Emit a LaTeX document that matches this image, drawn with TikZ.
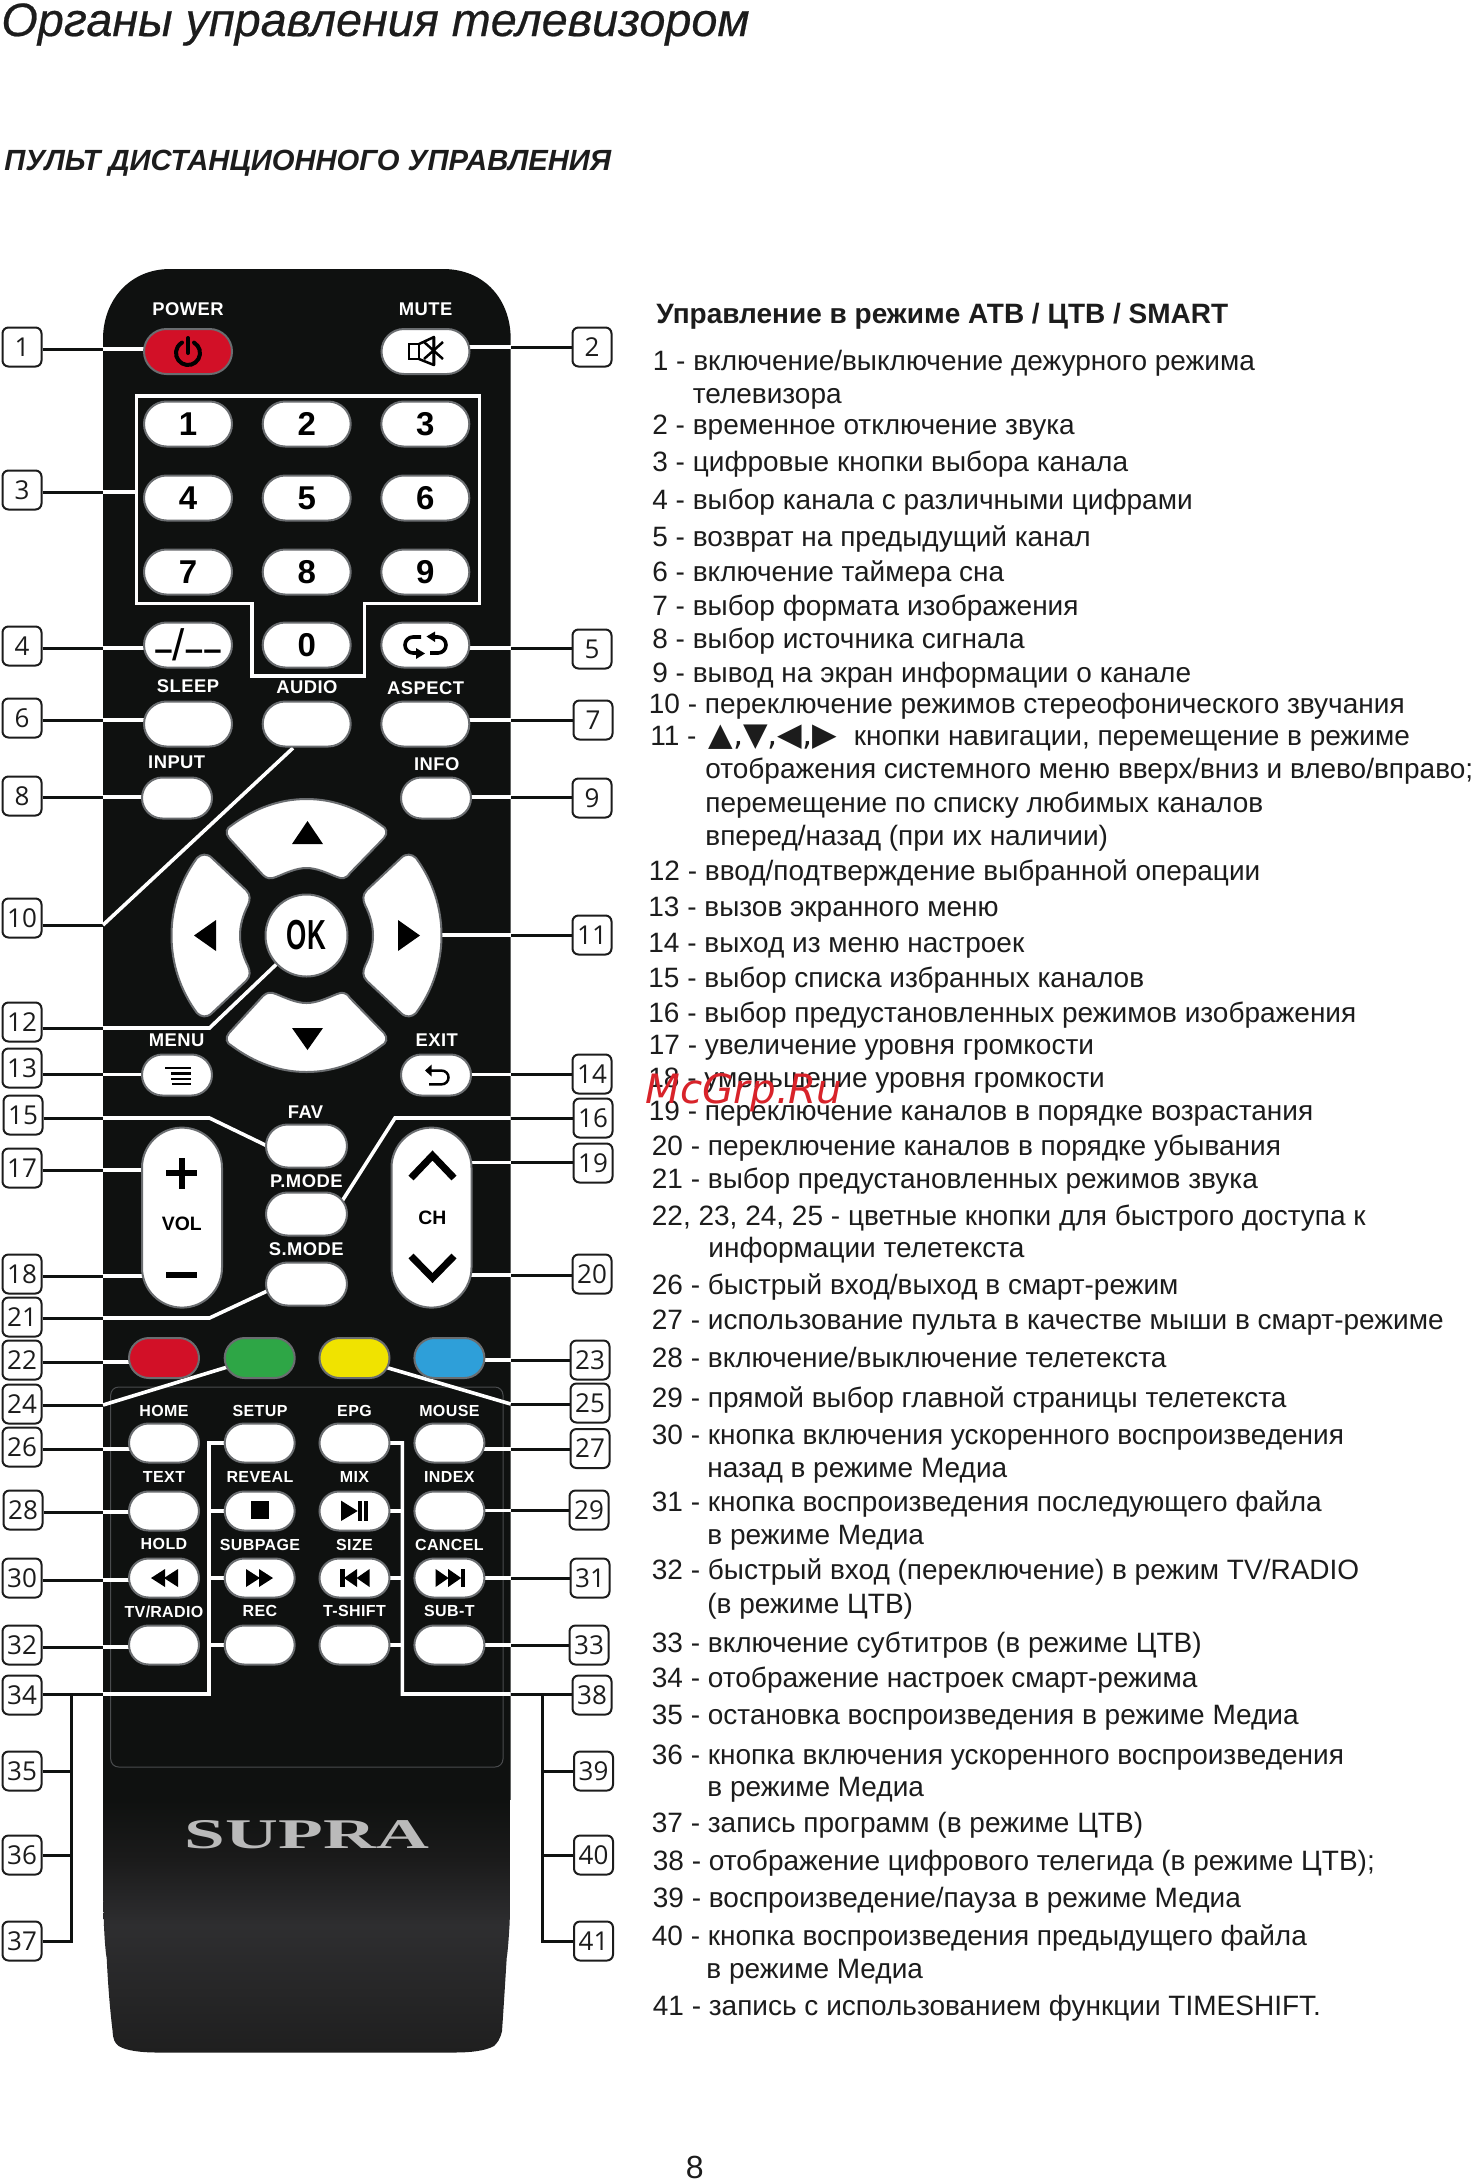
\documentclass[tikz,border=0pt]{standalone}
\usepackage{fontspec}
\setmainfont{Liberation Sans}
\newfontfamily\keyfont[LetterSpace=2.5]{Liberation Sans}
\newfontfamily\labfont{Open Sans}
\newfontfamily\symfont{DejaVu Sans}
\newfontfamily\wmfont{DejaVu Sans}
\newfontfamily\brandfont{Liberation Serif}
\usetikzlibrary{shapes.misc,calc}
\newcommand\fs[1]{\fontsize{#1pt}{#1pt}\selectfont}
\definecolor{bodyc}{HTML}{0F1110}
\definecolor{bodyk}{HTML}{1B1B1B}
\definecolor{bodyl}{HTML}{2E2E30}
\definecolor{bodym}{HTML}{1E1E1E}
\definecolor{edgec}{HTML}{6A6D70}
\definecolor{inkc}{HTML}{1C1C1C}
\definecolor{redc}{HTML}{D21027}
\definecolor{greenc}{HTML}{2EA646}
\definecolor{yellowc}{HTML}{F0E300}
\definecolor{bluec}{HTML}{2E9FD9}
\definecolor{markc}{HTML}{D8232A}
\pgfdeclarelayer{bodylayer}
\pgfdeclarelayer{linelayer}
\pgfsetlayers{bodylayer,linelayer,main}
\tikzset{
 btn/.style={rounded rectangle,draw=edgec,fill=white,line width=1pt,inner sep=0pt,outer sep=0pt},
 bigbtn/.style={btn,minimum width=44pt,minimum height=22.5pt},
 midbtn/.style={btn,minimum width=35pt,minimum height=20.5pt},
 favbtn/.style={btn,minimum width=40.5pt,minimum height=21.5pt},
 smallbtn/.style={btn,minimum width=35pt,minimum height=19.5pt},
 tallbtn/.style={rectangle,rounded corners=20pt,draw=edgec,fill=white,line width=1pt,inner sep=0pt,outer sep=0pt,minimum width=40pt,minimum height=90pt,text=black,font=\bfseries\fs{9.7}},
 numtext/.style={font=\bfseries\fs{16.5}},
 caplabel/.style={text=white,inner sep=0pt,font=\keyfont\bfseries\fs{9.2}},
 smlabel/.style={text=white,inner sep=0pt,font=\keyfont\bfseries\fs{8}},
 callout/.style={draw=inkc,fill=white,rounded corners=3pt,line width=1pt,minimum width=19.5pt,minimum height=19.5pt,inner sep=0pt,text=inkc,font=\labfont\fs{13}},
 kline/.style={draw=bodyc,line width=1.5pt},
 wline/.style={draw=white,line width=1.8pt},
 padbtn/.style={draw=edgec,fill=white,line width=1pt},
 icon/.style={fill=black,draw=none},
 iconln/.style={draw=black,line width=1.25pt},
 listtext/.style={anchor=base west,inner sep=0pt,text=inkc,font=\fs{14}},
}
\newcounter{ln}
\newcommand\li[3]{\stepcounter{ln}\node[listtext] (t\theln) at (#1,#2) {#3};}
\newcommand\lab[4]{\node[callout] (#1) at (#2,#3) {#4};}
% left connector: label, target, y
\newcommand\lc[3]{\begin{pgfonlayer}{linelayer}\coordinate (yy) at (0,#3);
 \draw[kline] (#1.east|-yy) -- (bl|-yy); \draw[wline] (bl|-yy) -- (#2|-yy);\end{pgfonlayer}}
\newcommand\rc[3]{\begin{pgfonlayer}{linelayer}\coordinate (yy) at (0,#3);
 \draw[kline] (#1.west|-yy) -- (br|-yy); \draw[wline] (br|-yy) -- (#2|-yy);\end{pgfonlayer}}
\newcommand\bodypath{(103,339) .. controls (103,300) and (130,269) .. (170,269) -- (443,269) .. controls (485,269) and (510.7,300) .. (510.7,339) -- (510.7,1875) .. controls (510.7,1920) and (508,1950) .. (506.7,1958) .. controls (505,1985) and (503.5,2010) .. (502,2031) .. controls (500,2040) and (497,2043) .. (494,2046) .. controls (485,2051) and (470,2052.5) .. (454.5,2052.5) -- (158,2052.5) .. controls (142,2052.5) and (127,2051) .. (118.6,2046) .. controls (115,2043) and (113,2040) .. (112.6,2031) .. controls (110,2010) and (108,1985) .. (106.7,1958) .. controls (105,1950) and (103,1920) .. (103,1875) -- cycle}
\begin{document}
\begin{tikzpicture}[x=0.5pt,y=-0.5pt]
\useasboundingbox (0,0) rectangle (1475,2181);
\coordinate (bl) at (103,0);
\coordinate (br) at (510.7,0);
% titles
\node[anchor=base west,inner sep=0pt,text=inkc,font=\itshape\fs{23.4}\addfontfeature{FakeBold=0.5}] (title) at (1,36) {Органы управления телевизором};
\node[anchor=base west,inner sep=0pt,text=inkc,font=\bfseries\itshape\fs{14.6}] (subtitle) at (4,170) {ПУЛЬТ ДИСТАНЦИОННОГО УПРАВЛЕНИЯ};
% body
\begin{pgfonlayer}{bodylayer}
\fill[white] (0,0) rectangle (1475,2181);
\begin{scope}
\clip \bodypath;
\fill[bodyc] (90,260) rectangle (520,1800);
\shade[top color=bodyc,bottom color=bodyk] (90,1800) rectangle (520,1860);
\shade[top color=bodyk,bottom color=bodyl] (90,1860) rectangle (520,1925);
\shade[top color=bodyl,bottom color=bodym] (90,1925) rectangle (520,2060);
\end{scope}
\draw[draw=edgec!70!black,line width=.5pt,rounded corners=4pt] (110.7,1387) rectangle (503,1767);
\end{pgfonlayer}
% captions
\foreach \nm/\tx/\xx/\yy in {c1/POWER/188/309,c2/MUTE/425.7/309,c3/SLEEP/188/686.6,c4/AUDIO/307/687.5,c5/ASPECT/425.7/688,c6/INPUT/176.7/762.5,c7/INFO/436.8/764,c8/MENU/176.7/1040,c9/EXIT/436.8/1040,c10/FAV/305.5/1112,c11/P.MODE/306.3/1181,c12/S.MODE/306.3/1249.6}
 {\node[caplabel] (\nm) at (\xx,\yy) {\tx};}
\foreach \nm/\tx/\xx/\yy in {d1/HOME/164/1411,d2/SETUP/260/1411,d3/EPG/354.5/1411,d4/MOUSE/449.4/1411,d5/TEXT/164/1476.5,d6/REVEAL/260/1476.5,d7/MIX/354.5/1476.5,d8/INDEX/449.4/1476.5,d9/HOLD/164/1544,d10/SUBPAGE/260/1545,d11/SIZE/354.5/1545,d12/CANCEL/449.4/1545,d13/TV\slash RADIO/164/1611.4,d14/REC/260/1611.4,d15/T-SHIFT/354.5/1611.4,d16/SUB-T/449.4/1611.4}
 {\node[smlabel] (\nm) at (\xx,\yy) {\tx};}
% top buttons
\node[bigbtn,fill=redc] (bpower) at (188,351.5) {};
\node[bigbtn] (bmute) at (425.5,351.5) {};
\node[bigbtn,numtext] (n1) at (188,424) {1};
\node[bigbtn,numtext] (n2) at (306.7,424) {2};
\node[bigbtn,numtext] (n3) at (425.3,424) {3};
\node[bigbtn,numtext] (n4) at (188,498) {4};
\node[bigbtn,numtext] (n5) at (306.7,498) {5};
\node[bigbtn,numtext] (n6) at (425.3,498) {6};
\node[bigbtn,numtext] (n7) at (188,572) {7};
\node[bigbtn,numtext] (n8) at (306.7,572) {8};
\node[bigbtn,numtext] (n9) at (425.3,572) {9};
\node[bigbtn,numtext] (bdash) at (188,645) {–{\mdseries\fs{22}/}––};
\node[bigbtn,numtext] (n0) at (306.7,645) {0};
\node[bigbtn] (bswap) at (425.3,645) {};
\node[bigbtn] (bsleep) at (188,724) {};
\node[bigbtn] (baudio) at (306.7,724) {};
\node[bigbtn] (baspect) at (425.3,724) {};
\node[midbtn] (binput) at (177,798) {};
\node[midbtn] (binfo) at (436,798) {};
\node[midbtn] (bmenu) at (177,1075) {};
\node[midbtn] (bexit) at (436,1075) {};
\node[favbtn] (bfav) at (306.5,1146) {};
\node[favbtn] (bpmode) at (306.5,1214) {};
\node[favbtn] (bsmode) at (306.5,1284) {};
\node[tallbtn] (bvol) at (182,1217.6) {};
\node[tallbtn] (bch) at (431.5,1217.6) {};
\node[inner sep=0pt,text=black,font=\bfseries\fs{9.7}] (tvol) at (181.8,1223.5) {VOL};
\node[inner sep=0pt,text=black,font=\bfseries\fs{9.7}] (tch) at (432.4,1217.6) {CH};
% colour buttons
\node[smallbtn,minimum height=20pt,fill=redc] (cred) at (164,1358) {};
\node[smallbtn,minimum height=20pt,fill=greenc] (cgreen) at (259.7,1358) {};
\node[smallbtn,minimum height=20pt,fill=yellowc] (cyellow) at (354.5,1358) {};
\node[smallbtn,minimum height=20pt,fill=bluec] (cblue) at (449.4,1358) {};
% grid
\node[smallbtn] (bhome) at (164,1443) {};
\node[smallbtn] (bsetup) at (259.7,1443) {};
\node[smallbtn] (bepg) at (354.5,1443) {};
\node[smallbtn] (bmouse) at (449.4,1443) {};
\node[smallbtn] (btext) at (164,1511) {};
\node[smallbtn] (breveal) at (259.7,1511) {};
\node[smallbtn] (bmix) at (354.5,1511) {};
\node[smallbtn] (bindex) at (449.4,1511) {};
\node[smallbtn] (bhold) at (164,1578) {};
\node[smallbtn] (bsubpage) at (259.7,1578) {};
\node[smallbtn] (bsize) at (354.5,1578) {};
\node[smallbtn] (bcancel) at (449.4,1578) {};
\node[smallbtn] (btv) at (164,1645) {};
\node[smallbtn] (brec) at (259.7,1645) {};
\node[smallbtn] (bshift) at (354.5,1645) {};
\node[smallbtn] (bsubt) at (449.4,1645) {};
% pad
\newcommand\padup{(229,838) .. controls (225,833) and (226,828) .. (232,825) .. controls (255,808) and (280,799) .. (306.5,799) .. controls (333,799) and (358,808) .. (381,825) .. controls (387,828) and (388,833) .. (384,838) -- (350,873) .. controls (346,879) and (342,879) .. (337,877) .. controls (327,873) and (317,868) .. (306.5,868) .. controls (296,868) and (286,873) .. (276,877) .. controls (271,879) and (267,879) .. (263,875) -- cycle}
\newcommand\padleft{(197,858) .. controls (201,854) and (207,853) .. (212,858) -- (246,890) .. controls (251,895) and (250,900) .. (248,905) .. controls (243,915) and (240,925) .. (240,935.5) .. controls (240,946) and (243,956) .. (248,966) .. controls (250,971) and (251,976) .. (246,981) -- (212,1013) .. controls (207,1018) and (201,1017) .. (197,1013) .. controls (180,990) and (171.5,963) .. (171.5,935.5) .. controls (171.5,908) and (180,881) .. (197,858) -- cycle}
\draw[padbtn] \padup;
\begin{scope}[shift={(0,1871)},yscale=-1]\draw[padbtn] \padup;\end{scope}
\draw[padbtn] \padleft;
\begin{scope}[shift={(613,0)},xscale=-1]\draw[padbtn] \padleft;\end{scope}
\coordinate (padr) at (430,935);
\fill[icon] (292,844) -- (307.5,821) -- (323,844) -- cycle;
\fill[icon] (292,1028) -- (307.5,1050) -- (323,1028) -- cycle;
\fill[icon] (216,920) -- (194,935.5) -- (216,951) -- cycle;
\fill[icon] (398,920) -- (420,935.5) -- (398,951) -- cycle;
\node[circle,draw=edgec,fill=white,line width=1pt,minimum size=41pt,inner sep=0pt,font=\bfseries\fs{21}] (bok) at (306.5,935.5) {\scalebox{.62}[1]{OK}};
% icons
\draw[line width=2pt,draw=black,line cap=round] (194,342.6) arc[start angle=-60,end angle=240,radius=12];
\draw[line width=2pt,draw=black,line cap=round] (188,338) -- (188,353);
\draw[iconln,fill=white] (409,344) rectangle (419,359);
\draw[iconln,line join=round] (419,344) -- (434,337) -- (434,365) -- (419,359);
\draw[iconln] (424,342) -- (443,359) (424,359) -- (443,342) (433.5,337) -- (433.5,365);
\draw[line width=1.8pt,draw=black] (421,637) -- (413,637) arc[start angle=270,end angle=90,radius=8] -- (418,653);
\fill[icon] (416,648) -- (425,653.5) -- (416,659) -- cycle;
\draw[line width=1.8pt,draw=black] (430,653) -- (438,653) arc[start angle=90,end angle=-90,radius=8] -- (433,637);
\fill[icon] (435,631.5) -- (426.5,636.5) -- (435,642) -- cycle;
\foreach \yy/\xx in {1068/165,1073.5/171,1079/171,1084/172} {\draw[line width=1.2pt,draw=black] (\xx,\yy) -- (190.5,\yy);}
\draw[line width=1.25pt,draw=black] (429,1084.4) -- (441,1084.4) .. controls (451,1084.4) and (451,1070.5) .. (441,1070.5) -- (431,1070.5);
\fill[icon] (425,1070.5) -- (431.6,1064.6) -- (431.6,1076.5) -- cycle;
\fill[icon] (178.8,1157.5) rectangle (184.8,1189);
\fill[icon] (166,1170.3) rectangle (197,1176.3);
\fill[icon] (166,1272) rectangle (197,1278);
\draw[line width=3.5pt,draw=black] (411,1178) -- (432.5,1155.5) -- (454,1178);
\draw[line width=3.5pt,draw=black] (411,1256) -- (432.5,1278) -- (454,1256);
\fill[icon] (251,1500.6) rectangle (269,1519);
\fill[icon] (341,1500.6) -- (357.7,1511) -- (341,1521) -- cycle;
\fill[icon] (358,1500.6) rectangle (361.7,1521);
\fill[icon] (364.4,1500.6) rectangle (368.4,1521);
\fill[icon] (165,1569) -- (151,1578) -- (165,1587) -- cycle;
\fill[icon] (178,1569) -- (164,1578) -- (178,1587) -- cycle;
\fill[icon] (246,1569) -- (260,1578) -- (246,1587) -- cycle;
\fill[icon] (259,1569) -- (273,1578) -- (259,1587) -- cycle;
\fill[icon] (340,1569) rectangle (344.5,1587);
\fill[icon] (357,1569) -- (344,1578) -- (357,1587) -- cycle;
\fill[icon] (369.6,1569) -- (356.6,1578) -- (369.6,1587) -- cycle;
\fill[icon] (461,1569) rectangle (465,1587);
\fill[icon] (435.6,1569) -- (448.6,1578) -- (435.6,1587) -- cycle;
\fill[icon] (448.2,1569) -- (461.2,1578) -- (448.2,1587) -- cycle;
% brand
\node[inner sep=0pt,text=black!27,font=\brandfont\bfseries] (brand) at (307,1835) {\resizebox{122pt}{14pt}{SUPRA}};
% callouts
\lab{l1}{22}{347}{1}\lab{l2}{592}{347}{2}\lab{l3}{22}{490}{3}\lab{l4}{22}{646}{4}\lab{l5}{592}{649}{5}
\lab{l6}{22}{718}{6}\lab{l7}{593}{720}{7}\lab{l8}{22}{796}{8}\lab{l9}{592}{798}{9}\lab{l10}{22}{918}{10}
\lab{l11}{592}{935}{11}\lab{l12}{22}{1022}{12}\lab{l13}{22}{1068}{13}\lab{l14}{592}{1074}{14}\lab{l15}{23}{1115}{15}
\lab{l16}{593}{1118}{16}\lab{l17}{22}{1168}{17}\lab{l18}{22}{1274}{18}\lab{l19}{593}{1163}{19}\lab{l20}{592}{1274}{20}
\lab{l21}{22}{1317}{21}\lab{l22}{22}{1360}{22}\lab{l23}{590}{1360}{23}\lab{l24}{22}{1404}{24}\lab{l25}{590}{1403}{25}
\lab{l26}{22}{1447}{26}\lab{l27}{590}{1448.5}{27}\lab{l28}{23}{1510}{28}\lab{l29}{589}{1510}{29}\lab{l30}{22}{1578}{30}
\lab{l31}{590}{1578}{31}\lab{l32}{22}{1645}{32}\lab{l33}{589}{1645}{33}\lab{l34}{22}{1695}{34}\lab{l38}{592}{1695}{38}
\lab{l35}{22}{1771}{35}\lab{l39}{593.5}{1771}{39}\lab{l36}{22}{1855}{36}\lab{l40}{593.5}{1855}{40}\lab{l37}{22}{1941}{37}\lab{l41}{593.5}{1941}{41}
% connectors
\lc{l1}{bpower}{349}\rc{l2}{bmute}{347}
\lc{l4}{bdash}{648}\rc{l5}{bswap}{648}
\lc{l6}{bsleep}{720}\rc{l7}{baspect}{720}
\lc{l8}{binput}{797}\rc{l9}{binfo}{797}
\rc{l11}{padr}{935}
\lc{l13}{bmenu}{1074.5}\rc{l14}{bexit}{1074.5}
\lc{l17}{bvol}{1170}\rc{l19}{bch}{1162.6}
\lc{l18}{bvol}{1276}\rc{l20}{bch}{1275}
\lc{l22}{cred}{1362}\rc{l23}{cblue}{1360}
\lc{l26}{bhome}{1449}\rc{l27}{bmouse}{1449}
\lc{l28}{btext}{1512}\rc{l29}{bindex}{1510.5}
\lc{l30}{bhold}{1580}\rc{l31}{bcancel}{1578}
\lc{l32}{btv}{1647}\rc{l33}{bsubt}{1645}
\begin{pgfonlayer}{linelayer}
\coordinate (y3) at (0,492);
\coordinate (fw) at (136.4,0);
\draw[kline] (l3.east|-y3) -- (bl|-y3);
\draw[wline] (bl|-y3) -- (fw|-y3);
\draw[wline] (136.4,396) -- (479.5,396) -- (479.5,603.6) -- (364.4,603.6) -- (364.4,676) -- (251.8,676) -- (251.8,603.6) -- (136.4,603.6) -- cycle;
% 10
\coordinate (y10) at (0,925);
\draw[kline] (l10.east|-y10) -- (bl|-y10);
\draw[wline] (bl|-y10) -- ($(baudio.center)+(-13.7,24)$);
% 12
\coordinate (y12) at (0,1028);
\coordinate (k12) at (209.5,1028);
\draw[kline] (l12.east|-y12) -- (bl|-y12);
\draw[wline] (bl|-y12) -- (k12) -- (bok.center);
% 15
\coordinate (y15) at (0,1118);
\coordinate (k15) at (209.5,1118);
\draw[kline] (l15.east|-y15) -- (bl|-y15);
\draw[wline] (bl|-y15) -- (k15) -- ($(bfav.center)+(-35,2)$);
% 16
\coordinate (y16) at (0,1118);
\coordinate (k16) at (395,1118);
\draw[kline] (l16.west|-y16) -- (br|-y16);
\draw[wline] (br|-y16) -- (k16) -- ($(bpmode.center)+(35,-12)$);
% 21
\coordinate (y21) at (0,1318);
\coordinate (k21) at (209.5,1318);
\draw[kline] (l21.east|-y21) -- (bl|-y21);
\draw[wline] (bl|-y21) -- (k21) -- ($(bsmode.center)+(-35,5)$);
% 24, 25
\coordinate (y24) at (0,1405);
\draw[kline] (l24.east|-y24) -- (bl|-y24);
\draw[wline] (bl|-y24) -- ($(cgreen.center)+(-29,8)$);
\coordinate (y25) at (0,1404);
\draw[kline] (l25.west|-y25) -- (br|-y25);
\draw[wline] (br|-y25) -- ($(cyellow.center)+(27,8)$);
% 34 group
\coordinate (y34) at (0,1694);
\coordinate (k34) at (208.7,1694);
\draw[kline] (l34.east|-y34) -- (bl|-y34);
\draw[wline] (bl|-y34) -- (k34) -- (k34|-bsetup) -- (bsetup);
\draw[wline] (k34|-breveal) -- (breveal);
\draw[wline] (k34|-bsubpage) -- (bsubpage);
\draw[wline] (k34|-brec) -- (brec);
\coordinate (lb) at (71,0);
\draw[kline] (lb|-y34) -- (lb|-l37.east) -- (l37.east);
\draw[kline] (lb|-l35.east) -- (l35.east);
\draw[kline] (lb|-l36.east) -- (l36.east);
% 38 group
\coordinate (y38) at (0,1694);
\coordinate (k38) at (402.4,1694);
\draw[kline] (l38.west|-y38) -- (br|-y38);
\draw[wline] (br|-y38) -- (k38) -- (k38|-bepg) -- (bepg);
\draw[wline] (k38|-bmix) -- (bmix);
\draw[wline] (k38|-bsize) -- (bsize);
\draw[wline] (k38|-bshift) -- (bshift);
\coordinate (rb) at (542.7,0);
\draw[kline] (rb|-y38) -- (rb|-l41.west) -- (l41.west);
\draw[kline] (rb|-l39.west) -- (l39.west);
\draw[kline] (rb|-l40.west) -- (l40.west);
\end{pgfonlayer}
% list
\node[anchor=base west,inner sep=0pt,text=inkc,font=\bfseries\fs{14}] (heading) at (656,323) {Управление в режиме АТВ / ЦТВ / SMART};
\li{652.5}{370}{1 - включение/выключение дежурного режима}
\li{692.5}{403}{телевизора}
\li{652}{434}{2 - временное отключение звука}
\li{652}{471}{3 - цифровые кнопки выбора канала}
\li{652}{509.6}{4 - выбор канала с различными цифрами}
\li{652}{546}{5 - возврат на предыдущий канал}
\li{652}{581}{6 - включение таймера сна}
\li{652}{615}{7 - выбор формата изображения}
\li{652}{648.5}{8 - выбор источника сигнала}
\li{652}{682}{9 - вывод на экран информации о канале}
\li{648.5}{713.6}{10 - переключение режимов стереофонического звучания}
\li{650}{745}{11 -}
\node[listtext,font=\symfont\fs{16}] (syms) at (708,745) {▲,▼,◀,▶};
\li{853.5}{745}{кнопки навигации, перемещение в режиме}
\li{705}{778.7}{отображения системного меню вверх/вниз и влево/вправо;}
\li{705}{812}{перемещение по списку любимых каналов}
\li{705}{845}{вперед/назад (при их наличии)}
\li{648.5}{880.4}{12 - ввод/подтверждение выбранной операции}
\li{648}{916.5}{13 - вызов экранного меню}
\li{648}{952}{14 - выход из меню настроек}
\li{648}{987}{15 - выбор списка избранных каналов}
\li{648}{1022}{16 - выбор предустановленных режимов изображения}
\li{648.5}{1054}{17 - увеличение уровня громкости}
\li{648}{1087}{18 - уменьшение уровня громкости}
\li{648.5}{1120}{19 - переключение каналов в порядке возрастания}
\li{651.5}{1155.7}{20 - переключение каналов в порядке убывания}
\li{651.5}{1188.6}{21 - выбор предустановленных режимов звука}
\li{651.5}{1225.8}{22, 23, 24, 25 - цветные кнопки для быстрого доступа к}
\li{708}{1257.6}{информации телетекста}
\li{651.5}{1294}{26 - быстрый вход/выход в смарт-режим}
\li{651.5}{1329}{27 - использование пульта в качестве мыши в смарт-режиме}
\li{651.5}{1367}{28 - включение/выключение телетекста}
\li{651.5}{1407}{29 - прямой выбор главной страницы телетекста}
\li{651.5}{1444.5}{30 - кнопка включения ускоренного воспроизведения}
\li{707}{1477}{назад в режиме Медиа}
\li{651.5}{1511}{31 - кнопка воспроизведения последующего файла}
\li{707}{1544}{в режиме Медиа}
\li{651.5}{1579}{32 - быстрый вход (переключение) в режим TV/RADIO}
\li{707}{1613}{(в режиме ЦТВ)}
\li{651.5}{1652}{33 - включение субтитров (в режиме ЦТВ)}
\li{651.5}{1687}{34 - отображение настроек смарт-режима}
\li{651.5}{1724.5}{35 - остановка воспроизведения в режиме Медиа}
\li{651.5}{1764}{36 - кнопка включения ускоренного воспроизведения}
\li{707}{1796}{в режиме Медиа}
\li{651.5}{1832}{37 - запись программ (в режиме ЦТВ)}
\li{652.5}{1870.5}{38 - отображение цифрового телегида (в режиме ЦТВ);}
\li{652.5}{1907}{39 - воспроизведение/пауза в режиме Медиа}
\li{651.5}{1945}{40 - кнопка воспроизведения предыдущего файла}
\li{706}{1978}{в режиме Медиа}
\li{652.5}{2015}{41 - запись с использованием функции TIMESHIFT.}
\node[listtext,font=\fs{16}] (pagenum) at (685.5,2178) {8};
\node[anchor=base west,inner sep=0pt,text=markc,font=\wmfont\itshape\fs{20.2}] (wmark) at (645,1103) {McGrp.Ru};
\end{tikzpicture}
\end{document}
